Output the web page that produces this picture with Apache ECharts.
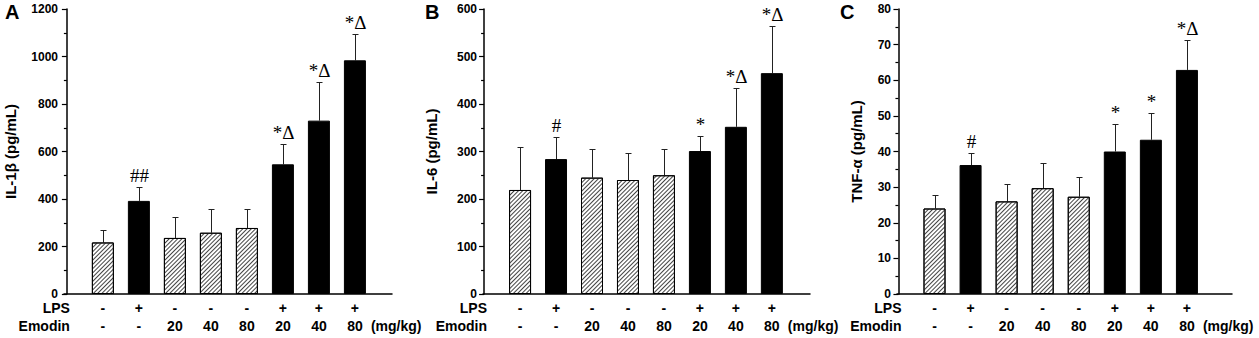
<!DOCTYPE html>
<html>
<head>
<meta charset="utf-8">
<script src="https://cdn.jsdelivr.net/npm/echarts@6/dist/echarts.min.js"></script>
<style>
  html, body { margin: 0; padding: 0; background: #fff; }
  #main { width: 1259px; height: 338px; }
</style>
</head>
<body>
<div id="main"></div>
<script>
// treatment rows under the x axis
const lpsRow = ['-', '+', '-', '-', '-', '+', '+', '+'];
const emodinRow = ['-', '-', '20', '40', '80', '20', '40', '80'];

// A: IL-1β
const il1bMean = [217, 392, 236, 258, 278, 546, 730, 984];
const il1bErr = [51, 57, 89, 101, 81, 86, 162, 112];
const il1bMark = ['', '##', '', '', '', '*Δ', '*Δ', '*Δ'];

// B: IL-6
const il6Mean = [219, 284, 245, 240, 250, 301, 352, 465];
const il6Err = [90, 46, 61, 57, 56, 32, 81, 100];
const il6Mark = ['', '#', '', '', '', '*', '*Δ', '*Δ'];

// C: TNF-α
const tnfMean = [24.0, 36.2, 26.0, 29.7, 27.3, 40.0, 43.3, 62.9];
const tnfErr = [3.7, 3.4, 4.9, 7.0, 5.5, 7.8, 7.4, 8.4];
const tnfMark = ['', '#', '', '', '', '*', '*', '*Δ'];

const panelLetters = ['A', 'B', 'C'];
const yNames = ['IL-1β (pg/mL)', 'IL-6 (pg/mL)', 'TNF-α (pg/mL)'];
const yMax = [1200, 600, 80];
const yStep = [200, 100, 10];

const means = [il1bMean, il6Mean, tnfMean];
const errs = [il1bErr, il6Err, tnfErr];
const marks = [il1bMark, il6Mark, tnfMark];

// panel placement
const layout = [
  { left: 64, width: 328, xMin: -0.08, xMax: 9.03, nameGap: 46, letterX: 5 },
  { left: 483, width: 327, xMin: -0.03, xMax: 9.06, nameGap: 44, letterX: 425 },
  { left: 897, width: 335, xMin: -0.04, xMax: 9.25, nameGap: 33, letterX: 840 }
];

const FONT = '"Liberation Sans", Arial, sans-serif';

const hatched = {
  color: '#fff',
  borderColor: '#000',
  borderWidth: 1,
  decal: {
    symbol: 'rect',
    symbolSize: 1,
    color: '#444',
    dashArrayX: [1, 0],
    dashArrayY: [1, 2],
    rotation: -Math.PI / 4
  }
};
const solid = { color: '#000', borderColor: '#000', borderWidth: 1 };

let grid = [], xAxis = [], yAxis = [], series = [], graphic = [];

layout.forEach((p, i) => {
  grid.push({ left: p.left, top: 9, width: p.width, height: 285 });
  xAxis.push({
    gridIndex: i, type: 'value', min: p.xMin, max: p.xMax,
    axisLine: { show: true, lineStyle: { color: '#000', width: 1.5 } },
    axisTick: { show: false }, axisLabel: { show: false }, splitLine: { show: false }
  });
  yAxis.push({
    gridIndex: i, type: 'value', min: 0, max: yMax[i], interval: yStep[i],
    name: yNames[i], nameLocation: 'middle', nameGap: p.nameGap,
    nameTextStyle: { fontFamily: FONT, fontWeight: 'bold', fontSize: 15, color: '#000' },
    axisLine: { show: true, lineStyle: { color: '#000', width: 1.5 } },
    axisTick: { show: true, length: 5, lineStyle: { color: '#000', width: 1.2 } },
    minorTick: { show: true, splitNumber: 2, length: 3, lineStyle: { color: '#000', width: 1.2 } },
    axisLabel: { fontFamily: FONT, fontWeight: 'bold', fontSize: 12, color: '#000', margin: 6,
                 formatter: v => String(v) },
    splitLine: { show: false }
  });

  series.push({
    type: 'bar', xAxisIndex: i, yAxisIndex: i, barWidth: 22,
    data: means[i].map((v, k) => ({ value: [k + 1, v], itemStyle: lpsRow[k] === '+' ? solid : hatched })),
    z: 3
  });

  series.push({
    type: 'custom', xAxisIndex: i, yAxisIndex: i, clip: false, z: 2,
    data: means[i].map((v, k) => [k + 1, v, errs[i][k]]),
    renderItem: (params, api) => {
      const x = api.value(0), m = api.value(1), e = api.value(2);
      const b = api.coord([x, m]);
      const t = api.coord([x, m + e]);
      const cx = Math.round(b[0]) + 0.5;
      const ty = Math.round(t[1]) + 0.5;
      return {
        type: 'group',
        children: [
          { type: 'line', shape: { x1: cx, y1: b[1], x2: cx, y2: ty }, style: { stroke: '#222', lineWidth: 1 } },
          { type: 'line', shape: { x1: cx - 3, y1: ty, x2: cx + 3, y2: ty }, style: { stroke: '#222', lineWidth: 1 } },
          { type: 'text', x: cx, y: ty - 3,
            style: { text: marks[i][params.dataIndex], textAlign: 'center', textVerticalAlign: 'bottom',
                     font: '19px "Liberation Serif", "Times New Roman", serif', fill: '#000' } }
        ]
      };
    }
  });

  // LPS / Emodin rows below the axis
  series.push({
    type: 'custom', xAxisIndex: i, yAxisIndex: i, clip: false, silent: true,
    data: lpsRow.map((s, k) => [k + 1, 0]),
    renderItem: (params, api) => {
      const c = api.coord([api.value(0), 0]);
      const k = params.dataIndex;
      const f = 'bold 14px ' + FONT;
      const kids = [
        { type: 'text', x: c[0], y: c[1] + 14, style: { text: lpsRow[k], textAlign: 'center', textVerticalAlign: 'middle', font: f, fill: '#000' } },
        { type: 'text', x: c[0], y: c[1] + 32, style: { text: emodinRow[k], textAlign: 'center', textVerticalAlign: 'middle', font: f, fill: '#000' } }
      ];
      if (k === 0) {
        kids.push({ type: 'text', x: c[0] - 33, y: c[1] + 14, style: { text: 'LPS', textAlign: 'right', textVerticalAlign: 'middle', font: f, fill: '#000' } });
        kids.push({ type: 'text', x: c[0] - 33, y: c[1] + 32, style: { text: 'Emodin', textAlign: 'right', textVerticalAlign: 'middle', font: f, fill: '#000' } });
      }
      if (k === lpsRow.length - 1) {
        kids.push({ type: 'text', x: c[0] + 16, y: c[1] + 32, style: { text: '(mg/kg)', textAlign: 'left', textVerticalAlign: 'middle', font: f, fill: '#000' } });
      }
      return { type: 'group', children: kids };
    }
  });

  graphic.push({
    type: 'text', left: p.letterX, top: 2,
    style: { text: panelLetters[i], font: 'bold 20px ' + FONT, fill: '#000' }
  });
});

const chart = echarts.init(document.getElementById('main'), null, { renderer: 'svg' });
chart.setOption({
  animation: false,
  backgroundColor: '#fff',
  grid, xAxis, yAxis, series, graphic
});
</script>
</body>
</html>
